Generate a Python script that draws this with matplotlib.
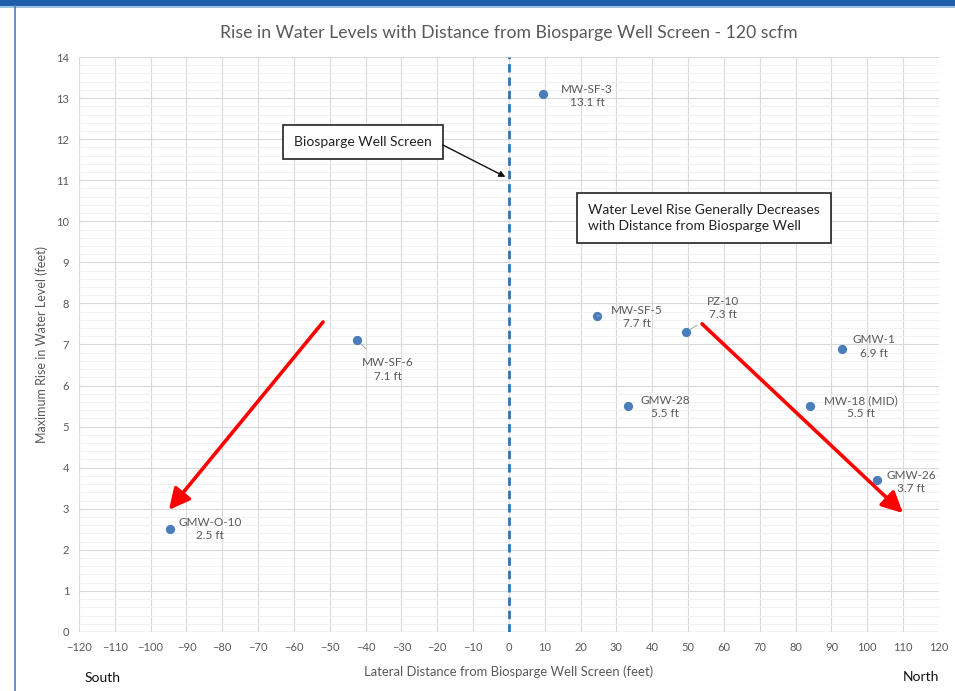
import matplotlib.pyplot as plt
from matplotlib.patches import Rectangle
from matplotlib.ticker import MultipleLocator

plt.rcParams['font.family'] = ['Lato', 'DejaVu Sans']

# well data: lateral distance (ft) and max rise (ft)
wells = ['MW-SF-3', 'MW-SF-5', 'PZ-10', 'GMW-1', 'GMW-28', 'MW-18 (MID)', 'GMW-26', 'MW-SF-6', 'GMW-O-10']
distance = [9.5, 24.6, 49.4, 92.9, 33.2, 84.0, 102.7, -42.4, -94.6]
rise = [13.1, 7.7, 7.3, 6.9, 5.5, 5.5, 3.7, 7.1, 2.5]
x_ticks = list(range(-120, 121, 10))
y_ticks = list(range(0, 15))

# label offsets in pixels (dx, dy), leader line flag
label_offsets = [(44, -2), (40, -1), (37, 24), (32, 2), (37, -1), (51, -1), (34, -2), (31, -29), (40, 0)]
leaders = [False, True, True, False, False, False, False, True, False]

fig = plt.figure(figsize=(9.55, 6.91), dpi=100)
ax = fig.add_axes([0.0827, 0.0854, 0.9005, 0.8321])

grey = '#595959'
ax.set_xlim(-120, 120)
ax.set_ylim(0, 14)
ax.set_xticks(x_ticks)
ax.set_yticks(y_ticks)
ax.yaxis.set_minor_locator(MultipleLocator(0.2))
ax.grid(which='major', color='#d9d9d9', lw=0.8)
ax.grid(which='minor', axis='y', color='#f0f0f0', lw=0.6)
ax.set_axisbelow(True)
for s in ax.spines.values():
    s.set_visible(False)
ax.tick_params(which='both', length=0, colors=grey, labelsize=8, pad=7)
ax.axhline(0, color='#d0d0d0', lw=1)

ax.set_xlabel('Lateral Distance from Biosparge Well Screen (feet)', color=grey, fontsize=9.4, labelpad=9)
ax.set_ylabel('Maximum Rise in Water Level (feet)', color=grey, fontsize=9, labelpad=6)
ax.set_title('Rise in Water Levels with Distance from Biosparge Well Screen - 120 scfm',
             color=grey, fontsize=12.7, pad=14)

# well screen line
ax.axvline(0, color='#2e75b6', lw=2, ls=(0, (3, 1.8)))

ax.scatter(distance, rise, s=32, color='#4a7ebb', zorder=3)
for name, x, y, (dx, dy), ld in zip(wells, distance, rise, label_offsets, leaders):
    ax.annotate(f'{name}\n{y:.1f} ft', (x, y), xytext=(dx, dy), textcoords='offset pixels',
                ha='center', va='center', fontsize=8.5, color=grey, linespacing=1.25,
                arrowprops=dict(arrowstyle='-', color='#a6a6a6', lw=0.7, shrinkA=6, shrinkB=4) if ld else None)

# callout boxes
box = dict(boxstyle='square,pad=0.8', fc='white', ec='#222222', lw=1.2)
ax.text(-60, 11.93, 'Biosparge Well Screen', fontsize=10, color='#222222', va='center', ha='left', bbox=box, zorder=4)
ax.annotate('', xy=(-0.3, 11.05), xytext=(-18.5, 11.86),
            arrowprops=dict(arrowstyle='-|>', color='#111111', lw=1, mutation_scale=9, shrinkA=0), zorder=4)
ax.text(22, 10.08, 'Water Level Rise Generally Decreases\nwith Distance from Biosparge Well',
        fontsize=10, color='#222222', va='center', ha='left', linespacing=1.4, bbox=box, zorder=4)

# red trend arrows
red = dict(arrowstyle='-|>,head_length=0.9,head_width=0.45', color='#ff0000', lw=2.6, mutation_scale=14)
ax.annotate('', xy=(-95.4, 2.92), xytext=(-51.4, 7.6), arrowprops=red, zorder=5)
ax.annotate('', xy=(110.5, 2.85), xytext=(53.3, 7.55), arrowprops=red, zorder=5)

fig.text(103 / 955, 1 - 678 / 691, 'South', fontsize=10, ha='center', va='center', color='#111111')
fig.text(921 / 955, 1 - 677 / 691, 'North', fontsize=10, ha='center', va='center', color='#111111')

# slide frame
fig.patches.append(Rectangle((0, 1 - 6 / 691), 1, 6 / 691, transform=fig.transFigure, fc='#1f5fa8', ec='none'))
fig.patches.append(Rectangle((0, 1 - 8 / 691), 1, 2 / 691, transform=fig.transFigure, fc='#9dc3e6', ec='none'))
fig.lines.append(plt.Line2D([15 / 955, 15 / 955], [0, 1 - 6 / 691], transform=fig.transFigure, color='#4a7ebb', lw=1.2))

fig.savefig('out.png', dpi=100)
